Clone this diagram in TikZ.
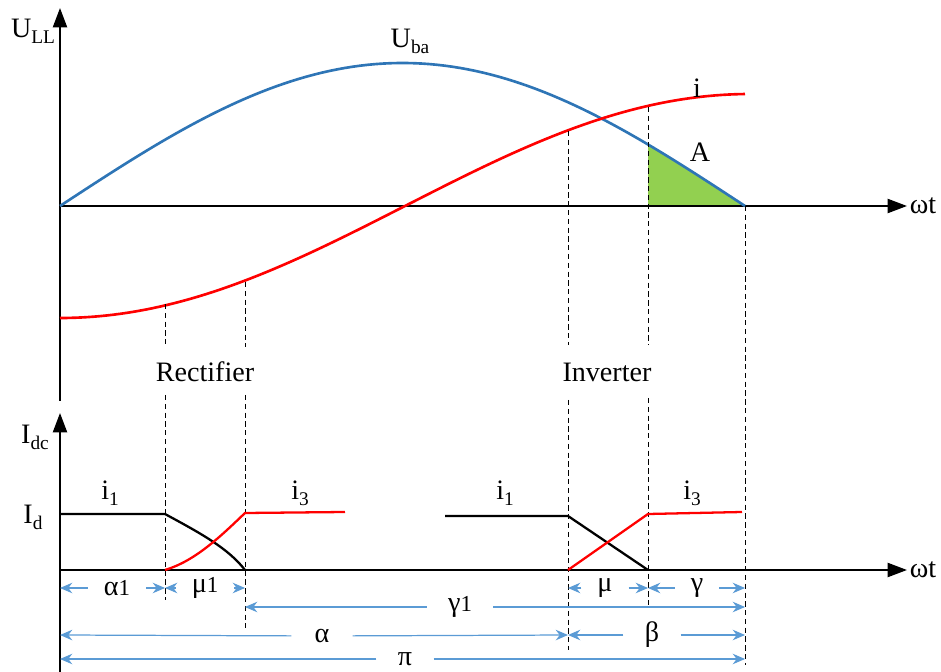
\documentclass[tikz,border=0pt]{standalone}
\usepackage{fontspec}
\setmainfont{Liberation Serif}
\usetikzlibrary{arrows.meta}
\newcommand{\lowsub}[1]{\raisebox{-0.45ex}{\fontsize{11}{11}\selectfont #1}}
\newcommand{\gsub}[1]{{\fontsize{13}{13}\selectfont #1}}
\definecolor{ubablue}{RGB}{46,117,182}
\definecolor{dimblue}{RGB}{91,155,213}
\definecolor{areagreen}{RGB}{146,208,80}
\begin{document}
\begin{tikzpicture}[x=0.02cm, y=-0.02cm,
        every node/.style={font=\fontsize{16}{19}\selectfont, inner sep=1pt},
        axis/.style={line width=1.1pt, -{Triangle[length=11pt, width=8pt]}},
        curve/.style={line width=1.5pt},
        trace/.style={line width=1.3pt},
        guide/.style={densely dashed, line width=0.5pt},
        dim/.style={dimblue, line width=0.7pt, -{Stealth[length=7pt, width=6pt]}},
        dimlabel/.style={inner xsep=9pt}]
    \useasboundingbox (0,0) rectangle (941,672);

    \coordinate (o1) at (60,206);
    \coordinate (o2) at (60,570);
    \fill[areagreen] plot[domain=648:745, samples=30] (\x, {206-143*sin((\x-60)/685*180)}) -- (648,206) -- cycle;
    \draw[axis] (60,401) -- (60,8);
    \draw[axis] (o1) -- (907,206);
    \draw[axis] (60,672) -- (60,413);
    \draw[axis] (o2) -- (907,570);

    \draw[curve, ubablue] plot[domain=60:745, samples=90] (\x, {206-143*sin((\x-60)/685*180)});
    \draw[curve, red] plot[domain=60:745, samples=90] (\x, {206+112*cos((\x-60)/690*180)});

    \node (ull) at (33,31) {U\lowsub{LL}};
    \node (uba) at (410,41) {U\lowsub{ba}};
    \node (icur) at (697,88) {i};
    \node (area) at (700,152) {A};
    \node (wt1) at (923,206) {ωt};
    \node (wt2) at (923,570) {ωt};
    \node (rect) at (205,372) {Rectifier};
    \node (inv) at (607,372) {Inverter};
    \node (idc) at (35,437) {I\lowsub{dc}};
    \node (id) at (33,517) {I\lowsub{d}};
    \node (ia) at (110,493) {i\lowsub{1}};
    \node (ib) at (300,493) {i\lowsub{3}};
    \node (ic) at (505,493) {i\lowsub{1}};
    \node (idd) at (692,493) {i\lowsub{3}};

    \coordinate (r1) at (165,304);
    \coordinate (r2) at (245,282);
    \coordinate (r3) at (568,131);
    \coordinate (r4) at (648,107);
    \coordinate (r5) at (745,206);
    \draw[guide] (r1) -- (165,347) (165,395) -- (165,600);
    \draw[guide] (r2) -- (245,347) (245,395) -- (245,628);
    \draw[guide] (r3) -- (568,345) (568,400) -- (568,650);
    \draw[guide] (r4) -- (648,345) (648,398) -- (648,605);
    \draw[guide] (r5) -- (745,665);

    \draw[trace] (60,514) -- (165,514) .. controls (200,533) and (228,548) .. (245,570);
    \draw[trace, red] (165,570) .. controls (195,561) and (220,537) .. (245,513) -- (345,512);
    \draw[trace] (445,516) -- (568,516) -- (648,570);
    \draw[trace, red] (568,570) -- (648,514) -- (742,512);

    \node[dimlabel] (a1) at (117,588) {α\gsub{1}};
    \node[dimlabel] (m1) at (205,588) {μ\gsub{1}};
    \node[dimlabel] (mu) at (605,588) {μ};
    \node[dimlabel] (ga) at (697,588) {γ};
    \node[dimlabel, inner xsep=12pt] (g1) at (460,607) {γ\gsub{1}};
    \node[dimlabel, inner xsep=13pt] (al) at (322,636) {α};
    \node[dimlabel, inner xsep=12pt] (be) at (652,635) {β};
    \node[dimlabel, inner xsep=12pt] (pi) at (405,659) {π};
    \draw[dim] (a1) -- (60,588);
    \draw[dim] (a1) -- (165,588);
    \draw[dim] (m1) -- (165,588);
    \draw[dim] (m1) -- (245,588);
    \draw[dim] (mu) -- (568,588);
    \draw[dim] (mu) -- (648,588);
    \draw[dim] (ga) -- (648,588);
    \draw[dim] (ga) -- (745,588);
    \draw[dim] (g1) -- (245,607);
    \draw[dim] (g1) -- (745,607);
    \draw[dim] (al) -- (60,635);
    \draw[dim] (al) -- (568,635);
    \draw[dim] (be) -- (568,635);
    \draw[dim] (be) -- (745,635);
    \draw[dim] (pi) -- (60,659);
    \draw[dim] (pi) -- (745,659);
\end{tikzpicture}
\end{document}
